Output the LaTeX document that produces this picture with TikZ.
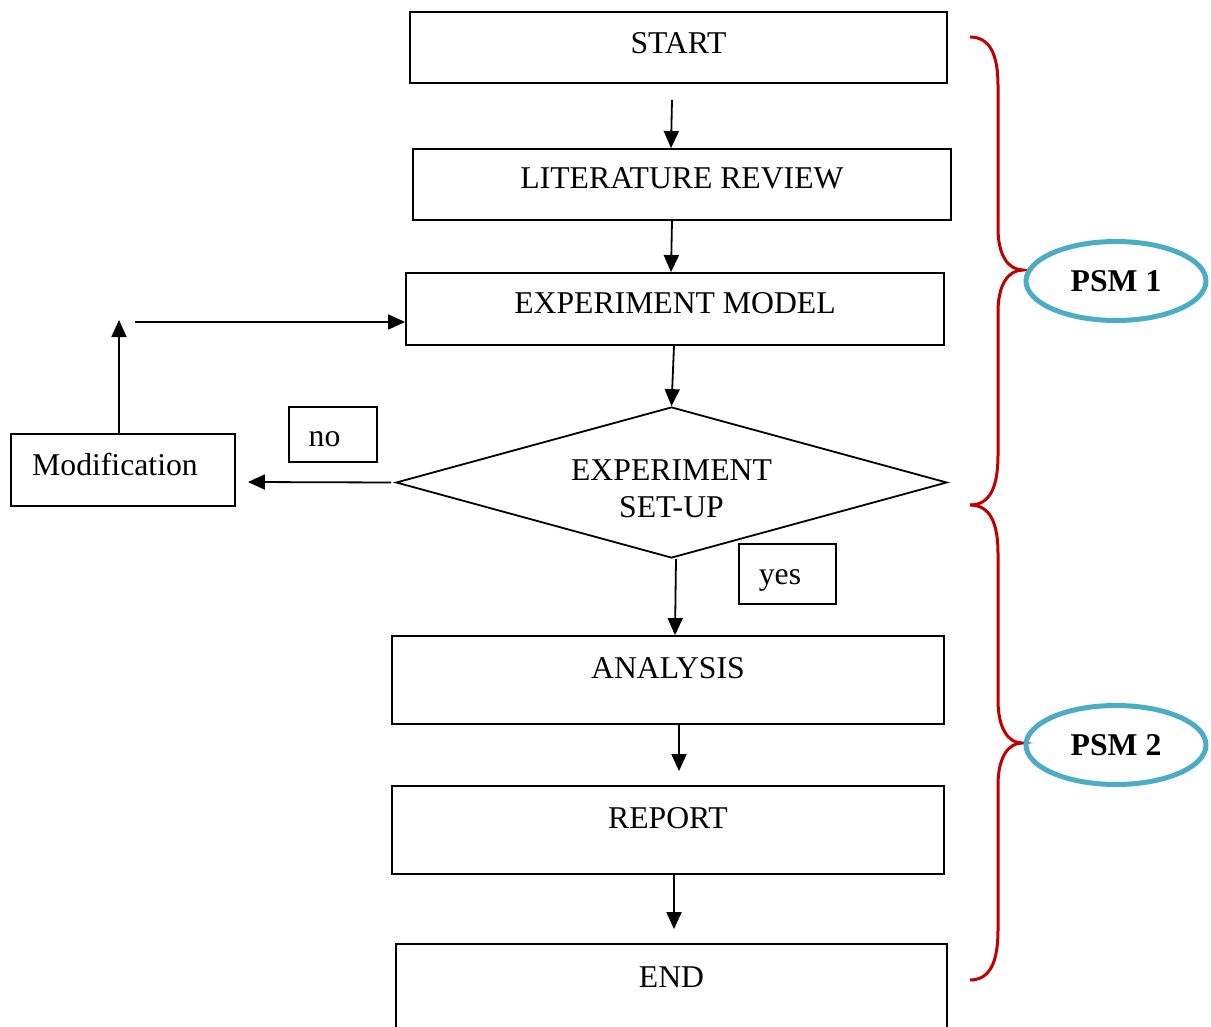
\documentclass[tikz,border=0pt]{standalone}
\usepackage{fontspec}
\setmainfont{Liberation Serif}
\usetikzlibrary{shapes.geometric,arrows.meta}
\definecolor{bracered}{HTML}{C00000}
\definecolor{psmblue}{HTML}{4BACC6}

\begin{document}
\begin{tikzpicture}[x=1pt,y=-1pt,
  >={Triangle[length=17pt,width=15pt]},
  every node/.style={font=\fontsize{31.7}{37}\selectfont},
  stepbox/.style={draw,line width=1.8pt,inner sep=0pt,text height=23pt},
  flow/.style={->,line width=1.8pt},
  brace/.style={draw=bracered,line width=3pt},
  psm/.style={ellipse,draw=psmblue,line width=5pt,minimum width=180pt,minimum height=79pt,
    font=\fontsize{31.7}{37}\selectfont\bfseries}]
\useasboundingbox (0,0) rectangle (1211,1027);
% main steps
\node[stepbox,minimum width=537,minimum height=71,text depth=10pt] (start) at (678.5,47.5) {START};
\node[stepbox,minimum width=538,minimum height=71,text depth=14pt] (lit) at (682,184.5) {LITERATURE REVIEW};
\node[stepbox,minimum width=538,minimum height=72,text depth=13pt] (exp) at (675,309) {EXPERIMENT MODEL};
\node[draw,diamond,line width=1.8pt,aspect=3.65,minimum width=551,minimum height=151,
  inner sep=0pt,align=center] (setup) at (671.5,482.5) {\rule{0pt}{33pt}EXPERIMENT\\SET-UP};
\node[stepbox,minimum width=552,minimum height=88,text depth=27pt] (analysis) at (668,680) {ANALYSIS};
\node[stepbox,minimum width=552,minimum height=88,text depth=27pt] (report) at (668,830) {REPORT};
\node[stepbox,minimum width=551,minimum height=88,text depth=25pt] (end) at (671.5,988) {END};
% side boxes
\node[stepbox,minimum width=224,minimum height=72,text depth=13pt] (modif) at (123,470) {Modification\kern16pt\null};
\node[stepbox,minimum width=88,minimum height=55,text depth=0pt] (no) at (333,434.5) {no\kern17pt\null};
\node[stepbox,minimum width=97,minimum height=60,text depth=3pt] (yes) at (787.5,574) {yes\kern15pt\null};

% arrows
\draw[flow] ([xshift=-6.5pt,yshift=-16pt]start.south) -- ([xshift=-11pt]lit.north);
\draw[flow] ([xshift=-10pt]lit.south) -- ([xshift=-4pt]exp.north);
\draw[flow] ([xshift=-1pt]exp.south) -- (setup.north);
\draw[flow] ([xshift=4.5pt]setup.south) -- ([xshift=7pt]analysis.north);
\draw[flow] ([xshift=11pt]analysis.south) -- ([xshift=11pt,yshift=14pt]report.north);
\draw[flow] ([xshift=6pt]report.south) -- ([xshift=2.5pt,yshift=14pt]end.north);
% loop back
\draw[flow] ([xshift=-4pt]setup.west) -- ([xshift=12pt,yshift=-12pt]modif.east);
\coordinate (loopup) at (119,320);
\coordinate (loopin) at (135,322);
\draw[flow] ([xshift=-4pt]modif.north) -- (loopup);
\draw[flow] (loopin) -- (loopin -| exp.west);

% braces
\draw[brace] (970,37) .. controls (990,37) and (998,55) .. (998,85) -- (998,228)
  .. controls (998,255) and (1008,270) .. (1023,270)
  .. controls (1008,270) and (998,285) .. (998,312) -- (998,455)
  .. controls (998,487) and (990,505) .. (970,505);
\draw[brace] (970,505) .. controls (990,505) and (998,523) .. (998,553) -- (998,700)
  .. controls (998,728) and (1008,743) .. (1022,743)
  .. controls (1008,743) and (998,758) .. (998,785) -- (998,930)
  .. controls (998,962) and (990,980) .. (970,980);
% phases
\node[psm] (psmone) at (1116,281) {PSM 1};
\node[psm] (psmtwo) at (1116,745) {PSM 2};
\end{tikzpicture}
\end{document}
